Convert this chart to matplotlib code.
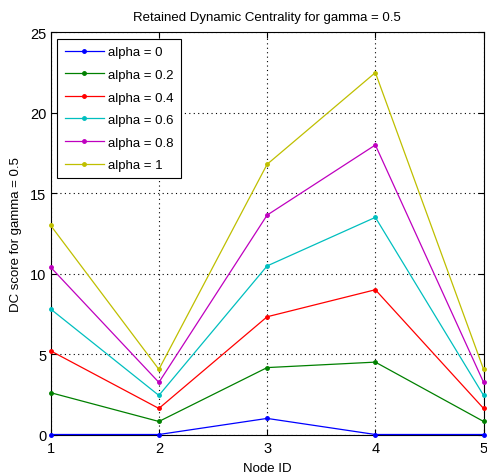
import matplotlib
matplotlib.use('Agg')
import matplotlib.pyplot as plt

plt.rcParams['font.family'] = ['Liberation Sans', 'DejaVu Sans']

# data
node_ids = [1, 2, 3, 4, 5]
alpha_labels = ['alpha = 0', 'alpha = 0.2', 'alpha = 0.4', 'alpha = 0.6', 'alpha = 0.8', 'alpha = 1']
dc_alpha_0 = [0.0, 0.0, 1.0, 0.0, 0.0]
dc_alpha_02 = [2.6, 0.81, 4.16, 4.5, 0.81]
dc_alpha_04 = [5.2, 1.62, 7.32, 9.0, 1.62]
dc_alpha_06 = [7.8, 2.43, 10.48, 13.5, 2.43]
dc_alpha_08 = [10.4, 3.24, 13.64, 18.0, 3.24]
dc_alpha_1 = [13.0, 4.05, 16.8, 22.5, 4.05]
series = [dc_alpha_0, dc_alpha_02, dc_alpha_04, dc_alpha_06, dc_alpha_08, dc_alpha_1]

# matlab default line colours b g r c m y
colors = ['#0000ff', '#008000', '#ff0000', '#00bfbf', '#bf00bf', '#bfbf00']

fig = plt.figure(figsize=(4.87, 4.77), dpi=100)
ax = fig.add_axes([0.104, 0.087, 0.889, 0.843])

for values, label, color in zip(series, alpha_labels, colors):
    ax.plot(node_ids, values, '-', marker='.', markersize=5, linewidth=0.9,
            color=color, label=label, clip_on=False, zorder=3)

ax.set_xlim(1, 5)
ax.set_ylim(0, 25)
ax.set_xticks([1, 2, 3, 4, 5])
ax.set_yticks([0, 5, 10, 15, 20, 25])
ax.grid(True, color='black', linestyle=(0, (1, 3)), linewidth=0.8)
ax.tick_params(direction='in', top=True, right=True, length=4, labelsize=10.5)
ax.tick_params(axis='x', pad=5)
ax.tick_params(axis='y', pad=3)
for spine in ax.spines.values():
    spine.set_linewidth(0.8)

ax.set_title('Retained Dynamic Centrality for gamma = 0.5', fontsize=9.5, pad=9)
ax.set_xlabel('Node ID', fontsize=9.5, labelpad=5)
ax.set_ylabel('DC score for gamma = 0.5', fontsize=9.5, labelpad=6)

leg = ax.legend(loc='upper left', fontsize=9.5, fancybox=False, framealpha=1,
                edgecolor='black', handlelength=3.0, borderaxespad=0.5,
                labelspacing=0.78, handletextpad=0.3, borderpad=0.55)
leg.get_frame().set_linewidth(0.8)

fig.savefig('out.png', dpi=100)
